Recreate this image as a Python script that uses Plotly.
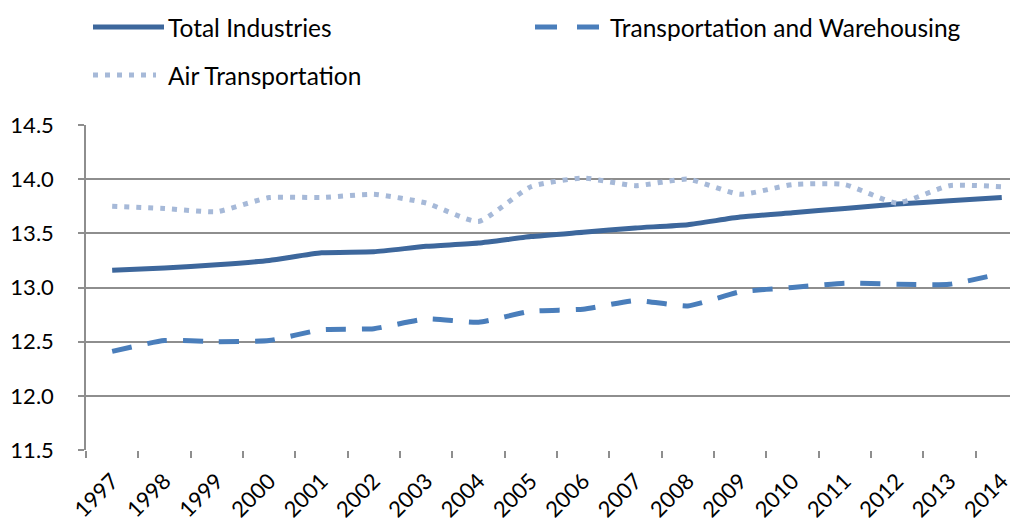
import plotly.graph_objects as go

years = [str(y) for y in range(1997, 2015)]
total_industries = [13.16, 13.18, 13.21, 13.25, 13.32, 13.33, 13.38, 13.41, 13.47,
                    13.51, 13.55, 13.58, 13.65, 13.69, 13.73, 13.77, 13.80, 13.83]
transport_warehousing = [12.41, 12.51, 12.50, 12.51, 12.61, 12.62, 12.71, 12.68, 12.78,
                         12.80, 12.88, 12.83, 12.96, 13.00, 13.04, 13.03, 13.03, 13.13]
air_transportation = [13.75, 13.73, 13.70, 13.83, 13.83, 13.86, 13.78, 13.61, 13.93,
                      14.01, 13.94, 14.00, 13.86, 13.95, 13.95, 13.78, 13.94, 13.93]
y_ticks = [11.5, 12.0, 12.5, 13.0, 13.5, 14.0, 14.5]

series_names = ["Total Industries", "Transportation and Warehousing", "Air Transportation"]
colors = ["#3D679C", "#4A7EBB", "#A6B9D8"]
dashes = ["solid", "20px,16px", "5px,7px"]

FONT = "Lato, 'Open Sans', sans-serif"

# page body adds an 8px offset; plot area on screen: x 86..1018, y 125..450
OFF = 8
fig = go.Figure()
for name, vals, col, dsh in zip(series_names,
                                [total_industries, transport_warehousing, air_transportation],
                                colors, dashes):
    fig.add_trace(go.Scatter(x=years, y=vals, mode="lines", name=name,
                             line=dict(color=col, width=5, dash=dsh, shape="spline", smoothing=0.5),
                             showlegend=False))

# custom legend (paper coords relative to on-screen plot area)
W, H, L, T = 932.0, 325.0, 86.0, 125.0
def px(p):
    return (p - L) / W
def py(p):
    return (T + H - p) / H

legend_items = [
    (series_names[0], colors[0], dashes[0], 93, 164, 27, 169),
    (series_names[1], colors[1], "22px,20px", 535, 600, 27, 611),
    (series_names[2], colors[2], dashes[2], 93, 156, 75, 169),
]
for name, col, dsh, x0, x1, yy, tx in legend_items:
    fig.add_shape(type="line", xref="paper", yref="paper",
                  x0=px(x0), x1=px(x1), y0=py(yy), y1=py(yy),
                  line=dict(color=col, width=5, dash=dsh))
    fig.add_annotation(xref="paper", yref="paper", x=px(tx), y=py(yy),
                       text=name, showarrow=False, xanchor="left", yanchor="middle",
                       xshift=-3, font=dict(family=FONT, size=24.5, color="#000000"))

fig.update_layout(
    width=1018, height=521,
    margin=dict(l=86 - OFF, r=OFF, t=125 - OFF, b=521 - 450 + OFF),
    paper_bgcolor="white", plot_bgcolor="white",
    font=dict(family=FONT, color="#000000"),
    showlegend=False,
)
fig.update_xaxes(
    type="category", range=[-0.5, 17.31], automargin=False,
    showgrid=False, showline=False, zeroline=False,
    tickson="boundaries", ticks="outside", ticklen=7, tickcolor="#8E8E8E", tickwidth=1.5,
    tickangle=-45, ticklabelstandoff=13,
    tickfont=dict(family=FONT, size=22, color="#000000"),
)
fig.update_yaxes(
    range=[11.5, 14.5], tickvals=y_ticks, tickformat=".1f", automargin=False,
    showgrid=True, gridcolor="#8E8E8E", gridwidth=1.5,
    showline=True, linecolor="#8E8E8E", linewidth=1.5, zeroline=False,
    ticks="outside", ticklen=6, tickcolor="#8E8E8E", tickwidth=1.5,
    ticklabelstandoff=20,
    tickfont=dict(family=FONT, size=22, color="#000000"),
)

fig.write_html("out.html")
